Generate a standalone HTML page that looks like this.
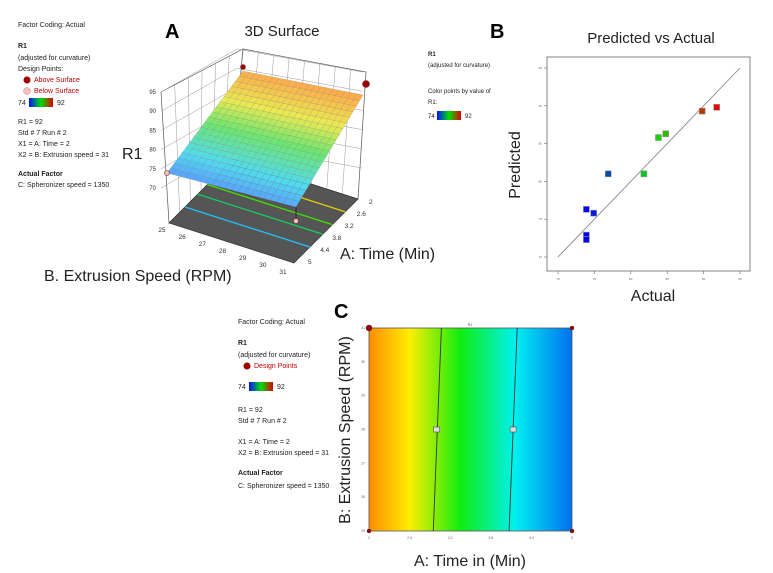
<!DOCTYPE html>
<html><head><meta charset="utf-8"><style>
body{margin:0;background:#fff;width:773px;height:573px;overflow:hidden;font-family:"Liberation Sans",sans-serif}
svg{position:absolute;left:0;top:0}
</style></head><body>
<svg id="fig" width="773" height="573" xmlns="http://www.w3.org/2000/svg" font-family="Liberation Sans, sans-serif">
<defs>
<linearGradient id="cb" x1="0" x2="1"><stop offset="0" stop-color="#0010ff"/><stop offset="0.5" stop-color="#00e000"/><stop offset="1" stop-color="#e00000"/></linearGradient>
<linearGradient id="cg" x1="0" x2="1"><stop offset="0" stop-color="#ff8c00"/><stop offset="0.2" stop-color="#ffee00"/><stop offset="0.45" stop-color="#10ee10"/><stop offset="0.72" stop-color="#00f0f0"/><stop offset="1" stop-color="#0070f0"/></linearGradient>
</defs>
<g font-size="7" fill="#222">
<text x="18" y="27">Factor Coding: Actual</text>
<text x="18" y="48" font-weight="bold">R1</text>
<text x="18" y="60">(adjusted for curvature)</text>
<text x="18" y="71">Design Points:</text>
<circle cx="27" cy="80" r="3.5" fill="#a00000"/><text x="34" y="82" fill="#c00000">Above Surface</text>
<circle cx="27" cy="91" r="3.5" fill="#f4c0c0" stroke="#c88" stroke-width="0.5"/><text x="34" y="93" fill="#c00000">Below Surface</text>
<text x="18" y="105">74</text><rect x="29" y="98" width="24" height="9" fill="url(#cb)"/><text x="57" y="105">92</text>
<text x="18" y="124">R1 = 92</text>
<text x="18" y="135">Std # 7 Run # 2</text>
<text x="18" y="146">X1 = A: Time = 2</text>
<text x="18" y="157">X2 = B: Extrusion speed = 31</text>
<text x="18" y="176" font-weight="bold">Actual Factor</text>
<text x="18" y="187">C: Spheronizer speed = 1350</text>
</g>
<text x="165" y="38" font-size="20" font-weight="bold">A</text>
<text x="282" y="36" font-size="15" text-anchor="middle" fill="#222">3D Surface</text>
<text x="122" y="159" font-size="16" fill="#222">R1</text>
<text x="340" y="259" font-size="16" fill="#222">A: Time (Min)</text>
<text x="44" y="281" font-size="16" fill="#222">B. Extrusion Speed (RPM)</text>
<g id="surf3d"></g>
<text x="490" y="38" font-size="20" font-weight="bold">B</text>
<text x="651" y="43" font-size="15" text-anchor="middle" fill="#222">Predicted vs Actual</text>
<g font-size="6" fill="#222">
<text x="428" y="56" font-weight="bold">R1</text>
<text x="428" y="67">(adjusted for curvature)</text>
<text x="428" y="93">Color points by value of</text>
<text x="428" y="104">R1:</text>
<text x="428" y="118">74</text><rect x="437" y="111" width="24" height="9" fill="url(#cb)"/><text x="465" y="118">92</text>
</g>
<text transform="translate(520,165) rotate(-90)" font-size="16" text-anchor="middle" fill="#222">Predicted</text>
<text x="653" y="301" font-size="16" text-anchor="middle" fill="#222">Actual</text>
<g id="scatter"></g>
<text x="334" y="318" font-size="20" font-weight="bold">C</text>
<g font-size="7" fill="#222">
<text x="238" y="324">Factor Coding: Actual</text>
<text x="238" y="345" font-weight="bold">R1</text>
<text x="238" y="357">(adjusted for curvature)</text>
<circle cx="247" cy="366" r="3.5" fill="#a00000"/><text x="254" y="368" fill="#c00000">Design Points</text>
<text x="238" y="389">74</text><rect x="249" y="382" width="24" height="9" fill="url(#cb)"/><text x="277" y="389">92</text>
<text x="238" y="412">R1 = 92</text>
<text x="238" y="423">Std # 7 Run # 2</text>
<text x="238" y="444">X1 = A: Time = 2</text>
<text x="238" y="455">X2 = B: Extrusion speed = 31</text>
<text x="238" y="475" font-weight="bold">Actual Factor</text>
<text x="238" y="488">C: Spheronizer speed = 1350</text>
</g>
<text transform="translate(350,430) rotate(-90)" font-size="16" text-anchor="middle" fill="#222">B: Extrusion Speed (RPM)</text>
<text x="470" y="566" font-size="16" text-anchor="middle" fill="#222">A: Time in (Min)</text>
<g id="contour"></g>
</svg>
<script>
const NS="http://www.w3.org/2000/svg";
function mk(p,t,a){const e=document.createElementNS(NS,t);for(const k in a)e.setAttribute(k,a[k]);p.appendChild(e);return e;}
function col(v){const s=[[74,[90,150,255]],[78,[80,220,240]],[83,[110,230,110]],[87,[235,235,80]],[92,[255,165,75]]];
 if(v<=s[0][0])return 'rgb('+s[0][1]+')';for(let i=1;i<s.length;i++){if(v<=s[i][0]){const t=(v-s[i-1][0])/(s[i][0]-s[i-1][0]);const c=s[i-1][1].map((x,j)=>Math.round(x+(s[i][1][j]-x)*t));return 'rgb('+c+')';}}return 'rgb('+s[4][1]+')';}
function ptcol(v){const t=(v-74)/18;let r,g,b;if(t<0.5){r=0;g=Math.round(t*2*230);b=Math.round(255*(1-t*2));}else{r=Math.round((t-0.5)*2*240);g=Math.round(230*(1-(t-0.5)*2));b=0;}return 'rgb('+r+','+g+','+b+')';}

const surfA=[5,2];
const surfB=[25,31];
const cornerR1=[74.5,91.5,92,75];
const zTicks=[70,75,80,85,90,95];
const aTicks=["2","2.6","3.2","3.8","4.4","5"];
const bTicks=["25","26","27","28","29","30","31"];
const floorContours=[0.25,0.45,0.6,0.8];
{
const g=document.getElementById('surf3d');
const F={l:[169,223],k:[233,159],r:[358,199],f:[294,263]};
function floorPt(u,w){
 const a=[F.l[0]+(F.k[0]-F.l[0])*u, F.l[1]+(F.k[1]-F.l[1])*u];
 const b=[F.f[0]+(F.r[0]-F.f[0])*u, F.f[1]+(F.r[1]-F.f[1])*u];
 return [a[0]+(b[0]-a[0])*w, a[1]+(b[1]-a[1])*w];}
const zpx=3.84;
const wl=mk(g,'polygon',{points:'161,92 243,49 233,159 169,223',fill:'#fff',stroke:'#555','stroke-width':0.7});

const wr=mk(g,'polygon',{points:'243,49 366,72 358,199 233,159',fill:'#fff',stroke:'#555','stroke-width':0.7});

for(let i=1;i<6;i++){const t=i/6;
 mk(g,'line',{x1:161+(243-161)*t,y1:92+(49-92)*t,x2:169+(233-169)*t,y2:223+(159-223)*t,stroke:'#999','stroke-width':0.5});}
for(let i=1;i<8;i++){const t=i/8;
 mk(g,'line',{x1:243+(366-243)*t,y1:49+(72-49)*t,x2:233+(358-233)*t,y2:159+(199-159)*t,stroke:'#999','stroke-width':0.5});}
zTicks.forEach((z,i)=>{const y=188-(z-70)*zpx;
 mk(g,'line',{x1:161,y1:y,x2:237,y2:y-43,stroke:'#999','stroke-width':0.5});
 mk(g,'line',{x1:237,y1:y-43,x2:362,y2:y-20,stroke:'#999','stroke-width':0.5});
 const t=mk(g,'text',{x:156,y:y+2,'font-size':6,'text-anchor':'end',fill:'#333'});t.textContent=z;
 });
const fl=mk(g,'polygon',{points:[F.l,F.k,F.r,F.f].map(p=>p.join(',')).join(' '),fill:'#555',stroke:'#333','stroke-width':0.7});

const fcols=['#20c0ff','#10d060','#40e000','#e0d000'];
floorContours.forEach((u,i)=>{const p=floorPt(u,0),q=floorPt(u,1);
 const l=mk(g,'line',{x1:p[0],y1:p[1],x2:q[0],y2:q[1],stroke:fcols[i],'stroke-width':1.3});
 });
const S={l:[167,173],k:[243,71],r:[363,95],f:[296,207]};
function sPt(u,w){const a=[S.l[0]+(S.k[0]-S.l[0])*u,S.l[1]+(S.k[1]-S.l[1])*u];const b=[S.f[0]+(S.r[0]-S.f[0])*u,S.f[1]+(S.r[1]-S.f[1])*u];return [a[0]+(b[0]-a[0])*w,a[1]+(b[1]-a[1])*w];}
function val(u,w){const a=cornerR1[0]+(cornerR1[1]-cornerR1[0])*u,b=cornerR1[3]+(cornerR1[2]-cornerR1[3])*u;return a+(b-a)*w;}
const N=20;
for(let i=0;i<N;i++)for(let j=0;j<N;j++){const u0=i/N,u1=(i+1)/N,w0=j/N,w1=(j+1)/N;
 const pts=[sPt(u0,w0),sPt(u1,w0),sPt(u1,w1),sPt(u0,w1)];
 const c=mk(g,'polygon',{points:pts.map(p=>p.join(',')).join(' '),fill:col(val((u0+u1)/2,(w0+w1)/2)),stroke:'#777','stroke-width':0.3,'stroke-opacity':0.6});
 }
const s1=mk(g,'line',{x1:296,y1:207,x2:296,y2:220,stroke:'#333','stroke-width':1.2});

[[243,67,'#a00000',2.5],[366,84,'#a00000',3.5],[167,173,'#f4c0c0',2.5],[296,221,'#f4c0c0',2.5]].forEach(p=>{
 const c=mk(g,'circle',{cx:p[0],cy:p[1],r:p[3],fill:p[2],stroke:'#733','stroke-width':0.6});
 });
aTicks.forEach((t,i)=>{const x=363-(i/5)*61,y=202+(i/5)*60;const e=mk(g,'text',{x:x+6,y:y+2,'font-size':6.5,fill:'#333'});e.textContent=t;
 });
bTicks.forEach((t,i)=>{const x=162+(i/6)*121,y=228+(i/6)*42;const e=mk(g,'text',{x:x,y:y+4,'font-size':6.5,'text-anchor':'middle',fill:'#333'});e.textContent=t;
 });
}

const actual=[73.9,74.9,73.9,73.9,76.9,81.8,83.8,84.8,89.8,91.8];
const predicted=[76.3,75.8,72.9,72.3,81.0,81.0,85.8,86.3,89.3,89.8];
const bTickVals=[70,75,80,85,90,95];
{
const g=document.getElementById('scatter');
const xs=v=>558+(v-70)/25*182, ys=v=>257-(v-70)/25*189;
const fr=mk(g,'rect',{x:547,y:57,width:203,height:214,fill:'#fff',stroke:'#666','stroke-width':0.8});

bTickVals.forEach(v=>{mk(g,'line',{x1:xs(v),y1:271,x2:xs(v),y2:274,stroke:'#666','stroke-width':0.6});
 mk(g,'line',{x1:544,y1:ys(v),x2:547,y2:ys(v),stroke:'#666','stroke-width':0.6});
 const a=mk(g,'text',{x:xs(v),y:280,'font-size':3,'text-anchor':'middle',fill:'#666'});a.textContent=v;
 
 const b=mk(g,'text',{x:542,y:ys(v)+1,'font-size':3,'text-anchor':'end',fill:'#666'});b.textContent=v;
 });
const dl=mk(g,'line',{x1:xs(70),y1:ys(70),x2:xs(95),y2:ys(95),stroke:'#888','stroke-width':0.9});

actual.forEach((a,i)=>{const r=mk(g,'rect',{x:xs(a)-3,y:ys(predicted[i])-3,width:6,height:6,fill:ptcol(a),stroke:'#999','stroke-width':0.6});
 });
}

const cXTicks=["2","2.6","3.2","3.8","4.4","5"];
const cYTicks=["25","26","27","28","29","30","31"];
const contourTop=[3.07,4.19];
const contourBot=[2.95,4.07];
const centerPts=[[3.0,28],[4.13,28]];
{
const g=document.getElementById('contour');
const xs=v=>369+(v-2)/3*203, ys=v=>531-(v-25)/6*203;
const r=mk(g,'rect',{x:369,y:328,width:203,height:203,fill:'url(#cg)',stroke:'#555','stroke-width':0.8});

const t=mk(g,'text',{x:470,y:326,'font-size':3.5,'text-anchor':'middle',fill:'#444'});t.textContent='R1';

contourTop.forEach((a,i)=>{const l=mk(g,'line',{x1:xs(a),y1:ys(31),x2:xs(contourBot[i]),y2:ys(25),stroke:'#333','stroke-width':0.9});
 });
centerPts.forEach(p=>{const q=mk(g,'rect',{x:xs(p[0])-3,y:ys(p[1])-2.5,width:6,height:5,fill:'#ddd',stroke:'#555','stroke-width':0.6});
 });
[[2,31],[5,31],[2,25],[5,25]].forEach((p,i)=>{const c=mk(g,'circle',{cx:xs(p[0]),cy:ys(p[1]),r:i==0?3:2,fill:'#a00000',stroke:'#333','stroke-width':0.5});
 });
cXTicks.forEach((v,i)=>{const x=369+i*203/5;const e=mk(g,'text',{x:x,y:539,'font-size':3.5,'text-anchor':'middle',fill:'#666'});e.textContent=v;
 });
cYTicks.forEach((v,i)=>{const y=531-i*203/6;const e=mk(g,'text',{x:365,y:y+1,'font-size':3.5,'text-anchor':'end',fill:'#666'});e.textContent=v;
 });
}
</script>
</body></html>
